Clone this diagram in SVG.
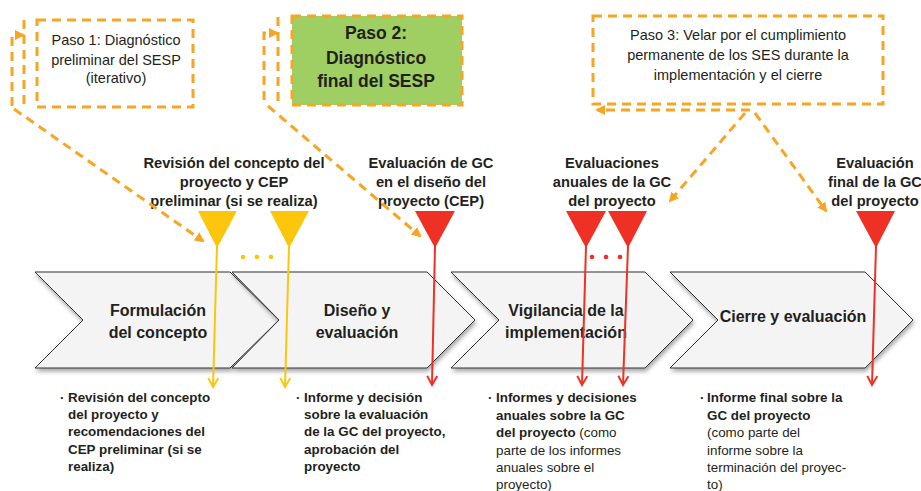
<svg xmlns="http://www.w3.org/2000/svg" width="921" height="491" viewBox="0 0 921 491">
<defs>
<style>
text{font-family:"Liberation Sans",Arial,sans-serif;fill:#231f20}
.r{font-size:14.5px}
.b{font-weight:bold}
.lab{font-size:14.7px;font-weight:bold;text-anchor:middle}
.ch{font-size:16px;font-weight:bold;text-anchor:middle}
.bt{font-size:13.4px}
.dash{fill:none;stroke:#f6a623;stroke-width:3;stroke-dasharray:9 6}
.chev{fill:#f3f4f3;stroke:#333;stroke-width:1;filter:url(#sh)}
.ys{stroke:#fcc60d;stroke-width:2;fill:none}
.rs{stroke:#ee3124;stroke-width:2;fill:none}
</style>
<filter id="sh" x="-5%" y="-10%" width="115%" height="130%">
<feDropShadow dx="1" dy="3" stdDeviation="2" flood-color="#000" flood-opacity="0.35"/>
</filter>
<marker id="oa" viewBox="0 0 10 10" refX="8" refY="5" markerWidth="10" markerHeight="10" markerUnits="userSpaceOnUse" orient="auto">
<path d="M0,0 L10,5 L0,10 Z" fill="#f6a623"/>
</marker>
<marker id="ya" viewBox="0 0 12 12" refX="10" refY="6" markerWidth="12" markerHeight="12" markerUnits="userSpaceOnUse" orient="auto">
<path d="M1,1 L10,6 L1,11" fill="none" stroke="#fcc60d" stroke-width="2"/>
</marker>
<marker id="ra" viewBox="0 0 12 12" refX="10" refY="6" markerWidth="12" markerHeight="12" markerUnits="userSpaceOnUse" orient="auto">
<path d="M1,1 L10,6 L1,11" fill="none" stroke="#ee3124" stroke-width="2"/>
</marker>
</defs>
<rect width="921" height="491" fill="#fff"/>

<g id="chevrons">
<g id="phase1"><path class="chev" d="M35,272 L230,272 L279,320 L230,368 L35,368 L83,320 Z"/>
<text class="ch" x="158" y="316">Formulación</text><text class="ch" x="158" y="338">del concepto</text></g>
<g id="phase2"><path class="chev" d="M232,272 L427,272 L475,320 L427,368 L232,368 L279,320 Z"/>
<text class="ch" x="357" y="316">Diseño y</text><text class="ch" x="357" y="338">evaluación</text></g>
<g id="phase3"><path class="chev" d="M451,272 L645,272 L693,320 L645,368 L451,368 L499,320 Z"/>
<text class="ch" x="566" y="316">Vigilancia de la</text><text class="ch" x="566" y="338">implementación</text></g>
<g id="phase4"><path class="chev" d="M670,272 L865,272 L913,320 L865,368 L670,368 L718,320 Z"/>
<text class="ch" x="793" y="322">Cierre y evaluación</text></g>
</g>

<g id="box1"><rect x="37" y="20" width="156" height="87" class="dash"/>
<text class="r" text-anchor="middle" x="116" y="45">Paso 1: Diagnóstico</text>
<text class="r" text-anchor="middle" x="116" y="65">preliminar del SESP</text>
<text class="r" text-anchor="middle" x="116" y="83">(iterativo)</text></g>

<g id="box2"><rect x="292" y="16" width="170" height="89" fill="#9fce63" stroke="#f6a623" stroke-width="3" stroke-dasharray="9 6"/>
<text class="b" font-size="17.5" text-anchor="middle" x="376" y="39">Paso 2:</text>
<text class="b" font-size="17.5" text-anchor="middle" x="376" y="64">Diagnóstico</text>
<text class="b" font-size="17.5" text-anchor="middle" x="376" y="87">final del SESP</text></g>

<g id="box3"><rect x="593" y="16" width="290" height="88" class="dash"/>
<text class="r" text-anchor="middle" x="738" y="40">Paso 3: Velar por el cumplimiento</text>
<text class="r" text-anchor="middle" x="738" y="60">permanente de los SES durante la</text>
<text class="r" text-anchor="middle" x="738" y="80">implementación y el cierre</text></g>

<g id="labels">
<g id="lab1"><text class="lab" x="234" y="168">Revisión del concepto del</text><text class="lab" x="234" y="187">proyecto y CEP</text><text class="lab" x="234" y="206">preliminar (si se realiza)</text></g>
<g id="lab2"><text class="lab" x="431" y="168">Evaluación de GC</text><text class="lab" x="431" y="187">en el diseño del</text><text class="lab" x="431" y="206">proyecto (CEP)</text></g>
<g id="lab3"><text class="lab" x="612" y="168">Evaluaciones</text><text class="lab" x="612" y="187">anuales de la GC</text><text class="lab" x="612" y="206">del proyecto</text></g>
<g id="lab4"><text class="lab" x="875" y="168">Evaluación</text><text class="lab" x="875" y="187">final de la GC</text><text class="lab" x="875" y="206">del proyecto</text></g>
</g>

<g id="markers">
<g id="y1"><path d="M198,211 L237,211 L217,248 Z" fill="#fcc60d"/></g>
<g id="y2"><path d="M270,211 L309,211 L289,248 Z" fill="#fcc60d"/></g>
<g id="ydots" fill="#fcc60d"><circle cx="243" cy="257" r="2.3"/><circle cx="257" cy="257" r="2.3"/><circle cx="271" cy="257" r="2.3"/></g>
<g id="r1"><path d="M415,211 L455,211 L435,248 Z" fill="#ee3124"/></g>
<g id="r2"><path d="M566,211 L606,211 L586,248 Z" fill="#ee3124"/></g>
<g id="r3"><path d="M608,211 L647,211 L628,248 Z" fill="#ee3124"/></g>
<g id="rdots" fill="#ee3124"><circle cx="592" cy="257" r="2.3"/><circle cx="606" cy="257" r="2.3"/><circle cx="620" cy="257" r="2.3"/></g>
<g id="r4"><path d="M856,211 L895,211 L876,248 Z" fill="#ee3124"/></g>
</g>

<g id="connectors">
<line x1="24" y1="20" x2="24" y2="107" class="dash"/>
<path d="M12,106 L12,35 L23,35" class="dash" marker-end="url(#oa)"/>
<line x1="14" y1="109" x2="203" y2="241" class="dash" marker-end="url(#oa)"/>
<line x1="278" y1="17" x2="278" y2="103" class="dash"/>
<path d="M264,100 L264,33 L277,33" class="dash" marker-end="url(#oa)"/>
<line x1="268" y1="106" x2="420" y2="236" class="dash" marker-end="url(#oa)"/>
<line x1="750" y1="110" x2="597" y2="110" class="dash" marker-end="url(#oa)"/>
<line x1="745" y1="113" x2="670" y2="201" class="dash" marker-end="url(#oa)"/>
<line x1="755" y1="113" x2="826" y2="211" class="dash" marker-end="url(#oa)"/>
<line x1="217" y1="246" x2="213" y2="387" class="ys" marker-end="url(#ya)"/>
<line x1="289" y1="246" x2="285" y2="387" class="ys" marker-end="url(#ya)"/>
<line x1="435" y1="246" x2="432" y2="385" class="rs" marker-end="url(#ra)"/>
<line x1="586" y1="246" x2="582" y2="385" class="rs" marker-end="url(#ra)"/>
<line x1="628" y1="246" x2="623" y2="385" class="rs" marker-end="url(#ra)"/>
<line x1="876" y1="246" x2="872" y2="385" class="rs" marker-end="url(#ra)"/>
</g>

<g id="out1">
<text class="bt b" x="60" y="402">·</text>
<text class="bt b" x="68" y="402">Revisión del concepto</text>
<text class="bt b" x="68" y="419">del proyecto y</text>
<text class="bt b" x="68" y="436">recomendaciones del</text>
<text class="bt b" x="68" y="454">CEP preliminar (si se</text>
<text class="bt b" x="68" y="471">realiza)</text>
</g>
<g id="out2">
<text class="bt b" x="296" y="402">·</text>
<text class="bt b" x="304" y="402">Informe y decisión</text>
<text class="bt b" x="304" y="419">sobre la evaluación</text>
<text class="bt b" x="304" y="436">de la GC del proyecto,</text>
<text class="bt b" x="304" y="454">aprobación del</text>
<text class="bt b" x="304" y="471">proyecto</text>
</g>
<g id="out3">
<text class="bt b" x="488" y="402">·</text>
<text class="bt b" x="496" y="402">Informes y decisiones</text>
<text class="bt b" x="496" y="420">anuales sobre la GC</text>
<text class="bt" x="496" y="437"><tspan font-weight="bold">del proyecto</tspan> (como</text>
<text class="bt" x="496" y="455">parte de los informes</text>
<text class="bt" x="496" y="472">anuales sobre el</text>
<text class="bt" x="496" y="489">proyecto)</text>
</g>
<g id="out4">
<text class="bt b" x="700" y="402">·</text>
<text class="bt b" x="707" y="402">Informe final sobre la</text>
<text class="bt b" x="707" y="420">GC del proyecto</text>
<text class="bt" x="707" y="437">(como parte del</text>
<text class="bt" x="707" y="455">informe sobre la</text>
<text class="bt" x="707" y="472">terminación del proyec-</text>
<text class="bt" x="707" y="489">to)</text>
</g>
</svg>
